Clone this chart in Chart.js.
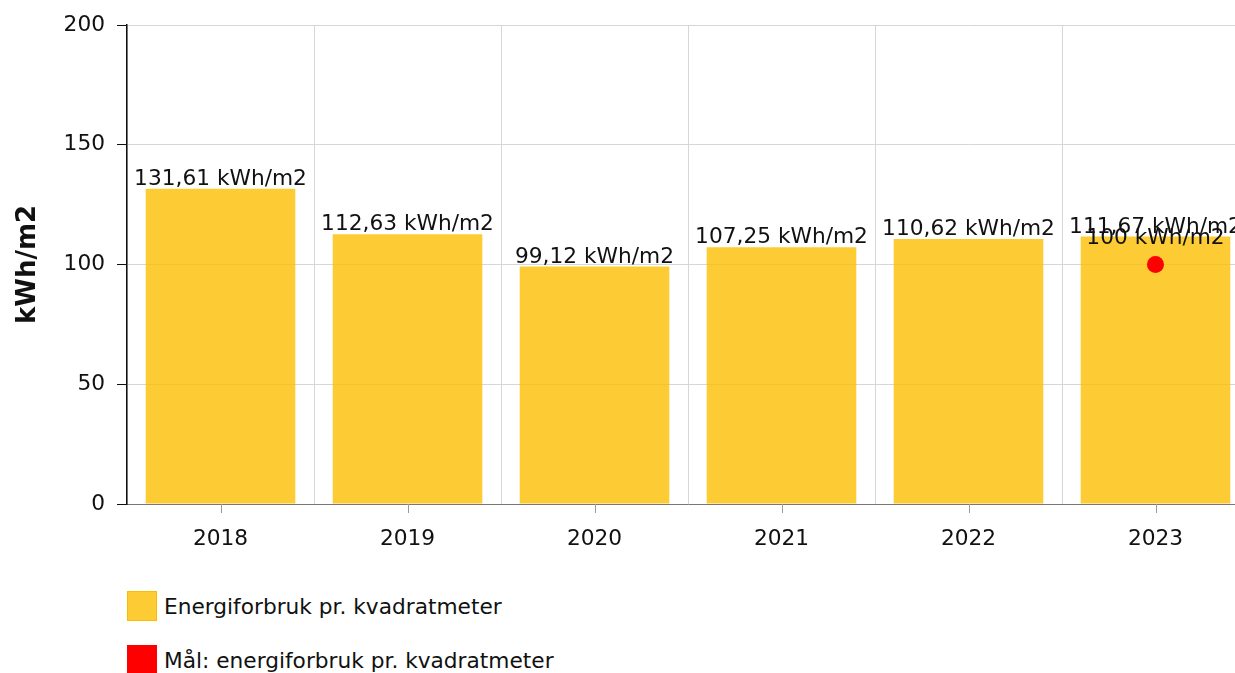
<!DOCTYPE html>
<html>
<head>
<meta charset="utf-8">
<script src="https://cdn.jsdelivr.net/npm/chart.js@4/dist/chart.umd.min.js"></script>
<style>
    html, body { margin: 0; padding: 0; overflow: hidden; background: #fff; }
    #wrap { position: relative; width: 1235px; height: 673px; overflow: hidden; }
    #chart { position: absolute; left: 0; top: 0; }
    #legend { position: absolute; left: 127px; top: 591px; font-family: "DejaVu Sans", Verdana, sans-serif; font-size: 21.7px; color: #111; }
    #legend .item { display: flex; align-items: center; height: 30px; margin-bottom: 24px; }
    #legend .box { width: 28px; height: 28px; margin-right: 7px; border: 1px solid; }
</style>
</head>
<body>
<div id="wrap">
    <canvas id="chart" width="1260" height="560"></canvas>
    <div id="legend"></div>
</div>
<script>
// chart data
const years = ['2018', '2019', '2020', '2021', '2022', '2023'];
const energyPerM2 = [131.61, 112.63, 99.12, 107.25, 110.62, 111.67];
const targetPerM2 = [null, null, null, null, null, 100];
const yTicks = [0, 50, 100, 150, 200];

const FONT = '"DejaVu Sans", Verdana, sans-serif';
const FONT_SIZE = 21.7;
const BAR_FILL = 'rgba(252, 190, 0, 0.8)';
const BAR_BORDER = 'rgb(250, 188, 0)';

function fmt(v) {
    return String(v).replace('.', ',') + ' kWh/m2';
}

// Labels above bars and points
const valueLabels = {
    id: 'valueLabels',
    afterDatasetsDraw(chart) {
        const ctx = chart.ctx;
        ctx.save();
        ctx.font = FONT_SIZE + 'px ' + FONT;
        ctx.fillStyle = '#111';
        ctx.textAlign = 'center';
        ctx.textBaseline = 'alphabetic';
        chart.data.datasets.forEach((ds, i) => {
            const meta = chart.getDatasetMeta(i);
            meta.data.forEach((el, j) => {
                const v = ds.data[j];
                if (v == null) return;
                const gap = ds.type === 'line' ? 21 : 4;
                ctx.fillText(fmt(v), el.x, el.y - gap);
            });
        });
        ctx.restore();
    }
};

// Small tick marks at the middle of each category
const centerTicks = {
    id: 'centerTicks',
    afterDraw(chart) {
        const x = chart.scales.x;
        const ctx = chart.ctx;
        ctx.save();
        ctx.strokeStyle = '#999';
        ctx.lineWidth = 1;
        years.forEach((y, i) => {
            const px = Math.round(x.getPixelForValue(i)) + 0.5;
            ctx.beginPath();
            ctx.moveTo(px, x.top);
            ctx.lineTo(px, x.top + 9);
            ctx.stroke();
        });
        ctx.restore();
    }
};

const chart = new Chart(document.getElementById('chart'), {
    data: {
        labels: years,
        datasets: [{
            type: 'bar',
            label: 'Energiforbruk pr. kvadratmeter',
            data: energyPerM2,
            backgroundColor: BAR_FILL,
            borderColor: BAR_BORDER,
            borderWidth: 0,
            barPercentage: 0.8,
            categoryPercentage: 1,
            order: 1
        }, {
            type: 'line',
            label: 'Mål: energiforbruk pr. kvadratmeter',
            data: targetPerM2,
            showLine: false,
            pointRadius: 8.5,
            pointBackgroundColor: '#ff0000',
            pointBorderWidth: 0,
            borderColor: '#ff0000',
            backgroundColor: '#ff0000',
            order: 0
        }]
    },
    options: {
        responsive: false,
        animation: false,
        layout: { padding: { top: 25, right: 11, left: 0, bottom: 0 } },
        plugins: {
            legend: { display: false },
            tooltip: { enabled: false }
        },
        scales: {
            x: {
                offset: true,
                grid: {
                    offset: true,
                    color: '#d6d6d6',
                    drawTicks: false
                },
                border: { color: '#777', width: 1 },
                ticks: {
                    color: '#111',
                    font: { family: FONT, size: FONT_SIZE },
                    padding: 22
                },
                afterFit(scale) { scale.height = 56; }
            },
            y: {
                min: 0,
                max: 200,
                afterBuildTicks(scale) { scale.ticks = yTicks.map(v => ({ value: v })); },
                grid: {
                    color: '#d6d6d6',
                    tickColor: '#111',
                    tickLength: 10
                },
                border: { color: '#111', width: 1.5 },
                ticks: {
                    color: '#111',
                    font: { family: FONT, size: FONT_SIZE },
                    padding: 12
                },
                title: {
                    display: true,
                    text: 'kWh/m2',
                    color: '#111',
                    font: { family: FONT, size: 26, weight: 'bold' },
                    padding: { top: 13, bottom: 0 }
                },
                afterFit(scale) { scale.width = 127; }
            }
        }
    },
    plugins: [valueLabels, centerTicks]
});

// HTML legend, one item per line
const legend = document.getElementById('legend');
chart.data.datasets.forEach(ds => {
    const item = document.createElement('div');
    item.className = 'item';
    const box = document.createElement('span');
    box.className = 'box';
    box.style.background = ds.type === 'bar' ? ds.backgroundColor : ds.pointBackgroundColor;
    box.style.borderColor = ds.type === 'bar' ? ds.borderColor : ds.pointBackgroundColor;
    const text = document.createElement('span');
    text.textContent = ds.label;
    item.appendChild(box);
    item.appendChild(text);
    legend.appendChild(item);
});
</script>
</body>
</html>
